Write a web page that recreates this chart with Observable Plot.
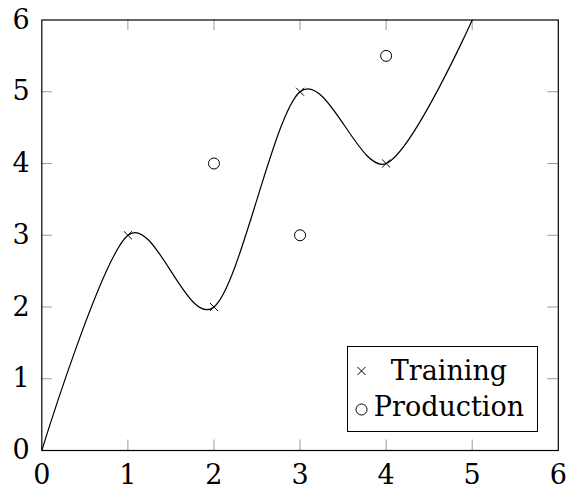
<!DOCTYPE html>
<html><head><meta charset="utf-8">
<script src="https://cdn.jsdelivr.net/npm/d3@7"></script>
<script src="https://cdn.jsdelivr.net/npm/@observablehq/plot@0.6"></script>
<style>
html,body{margin:0;padding:0;background:#fff;}
#wrap{position:relative;width:568px;height:490px;}
#legend{position:absolute;left:347px;top:346px;width:189px;height:84px;border:1px solid #000;background:#fff;}
#legend svg{display:block;}
</style></head><body><div id="wrap"></div>
<script>
// Data
const curveX = [0, 1, 2, 3, 4, 5];
const curveY = [0, 3, 2, 5, 4, 6];
const trainX = [1, 2, 3, 4];
const trainY = [3, 2, 5, 4];
const prodX = [2, 3, 4];
const prodY = [4, 3, 5.5];
const tickValues = [0, 1, 2, 3, 4, 5, 6];
const innerTicks = [1, 2, 3, 4, 5];
const legendLabels = ["Training", "Production"];

const curve = curveX.map((x, i) => ({x, y: curveY[i]}));
const train = trainX.map((x, i) => ({x, y: trainY[i]}));
const prod = prodX.map((x, i) => ({x, y: prodY[i]}));

const W = 568, H = 490, mL = 41.3, mR = 10.2, mT = 19.5, mB = 40;
const innerW = W - mL - mR, innerH = H - mT - mB, tickLen = 10.5;
const tickColor = "#9a9a9a";

const chart = Plot.plot({
  width: W, height: H,
  marginLeft: mL, marginRight: mR, marginTop: mT, marginBottom: mB,
  style: {fontFamily: "'DejaVu Serif', serif", fontSize: "27px", color: "#000", background: "#fff"},
  x: {domain: [0, 6]},
  y: {domain: [0, 6]},
  marks: [
    Plot.ruleX(innerTicks, {x: d => d, insetTop: innerH - tickLen, stroke: tickColor}),
    Plot.ruleX(innerTicks, {x: d => d, insetBottom: innerH - tickLen, stroke: tickColor}),
    Plot.ruleY(innerTicks, {y: d => d, insetRight: innerW - tickLen, stroke: tickColor}),
    Plot.ruleY(innerTicks, {y: d => d, insetLeft: innerW - tickLen, stroke: tickColor}),
    Plot.line(curve, {x: "x", y: "y", curve: "cardinal", tension: 0.08, stroke: "#000", strokeWidth: 1.2, clip: true}),
    Plot.dot(train, {x: "x", y: "y", symbol: "times", r: 3.7, stroke: "#000", strokeWidth: 1}),
    Plot.dot(prod, {x: "x", y: "y", symbol: "circle", r: 5.5, stroke: "#000", fill: "none", strokeWidth: 1}),
    Plot.frame({stroke: "#000", strokeWidth: 1.2}),
    Plot.axisX({ticks: tickValues, tickSize: 0, tickPadding: 14, label: null, tickFormat: d3.format("d")}),
    Plot.axisY({ticks: tickValues, tickSize: 0, tickPadding: 12, label: null, tickFormat: d3.format("d")})
  ]
});
const wrap = document.getElementById("wrap");
wrap.appendChild(chart);

// Legend (inside plot, bottom-right)
const legend = document.createElement("div");
legend.id = "legend";
const sym = [d3.symbol(d3.symbolTimes, 43.5)(), d3.symbol(d3.symbolCircle, Math.PI * 5.5 * 5.5)()];
legend.innerHTML = `<svg width="189" height="84" font-family="'DejaVu Serif', serif" font-size="27">
  <path d="${sym[0]}" transform="translate(13.5,24)" fill="none" stroke="#000" stroke-width="1"/>
  <text x="101" y="33" text-anchor="middle">${legendLabels[0]}</text>
  <path d="${sym[1]}" transform="translate(13.5,62.5)" fill="none" stroke="#000" stroke-width="1"/>
  <text x="101" y="69" text-anchor="middle">${legendLabels[1]}</text>
</svg>`;
wrap.appendChild(legend);
</script></body></html>
